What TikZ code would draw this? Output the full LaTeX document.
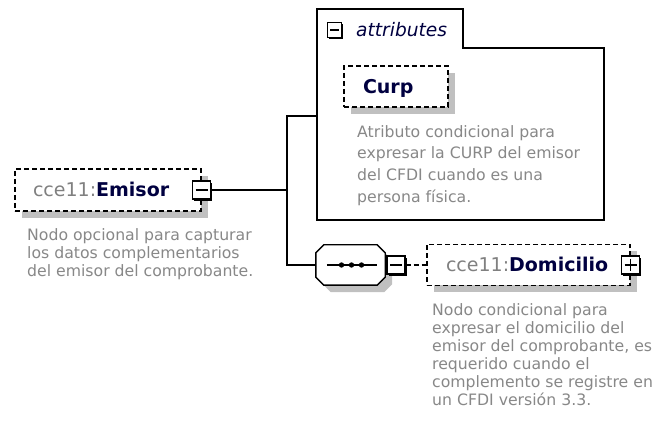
\documentclass[tikz,border=0pt]{standalone}
\usepackage{fontspec}
\setmainfont{DejaVu Sans}
\usetikzlibrary{shadows}
\definecolor{desc}{RGB}{136,136,136}
\definecolor{pfx}{RGB}{128,128,128}
\definecolor{nm}{RGB}{0,0,64}
\definecolor{shd}{RGB}{192,192,192}
\begin{document}
\begin{tikzpicture}[x=1pt,y=-1pt,
  conn/.style={line width=1.4pt},
  dconn/.style={line width=1.4pt, dash pattern=on 5pt off 3pt},
  elembox/.style={draw, dash pattern=on 5pt off 3pt, line width=1.4pt, fill=white,
    inner xsep=0pt, inner ysep=0pt, text height=13.6pt, text depth=0pt,
    font=\fontsize{19}{22}\selectfont,
    drop shadow={shadow xshift=7pt, shadow yshift=-7pt, fill=shd, opacity=1}},
  togglebox/.style={draw, fill=white, line width=1.2pt, minimum size=#1, inner sep=0pt,
    drop shadow={shadow xshift=1.6pt, shadow yshift=-1.6pt, fill=black, opacity=1}},
  minusbox/.style={togglebox=#1, path picture={\draw[line width=1.3pt]
    ([xshift=3pt]path picture bounding box.west) -- ([xshift=-3pt]path picture bounding box.east);}},
  plusbox/.style={togglebox=#1, path picture={\draw[line width=1.3pt]
    ([xshift=3pt]path picture bounding box.west) -- ([xshift=-3pt]path picture bounding box.east)
    ([yshift=-3pt]path picture bounding box.north) -- ([yshift=3pt]path picture bounding box.south);}},
  desctext/.style={anchor=north west, inner sep=0pt, align=left, text=desc,
    font=\fontsize{15.7}{18}\selectfont},
  seqshape/.style={line width=1.4pt, fill=white,
    drop shadow={shadow xshift=7pt, shadow yshift=-7pt, fill=shd, opacity=1}},
]
\fill[white] (0,0) rectangle (662,430);
\useasboundingbox (0,0) rectangle (662,430);

% attributes container
\draw[line width=1.4pt] (317,9) -- (463,9) -- (463,48) -- (604,48) -- (604,220) -- (317,220) -- cycle;
\node[minusbox=14.5pt] (attrtog) at (334.5,30) {};
\node[anchor=base west, inner sep=0pt, font=\fontsize{18.6}{20}\selectfont\itshape, text=nm] (attrlbl) at (356,36.5) {attributes};

% Curp
\node[elembox, minimum width=104pt, minimum height=41pt] (curp) at (396,86.5)
  {\makebox[104pt][l]{\hspace{19pt}\textcolor{nm}{\bfseries Curp}}};
\node[desctext, font=\fontsize{15.7}{21.7}\selectfont] (curpdesc) at (357,125)
  {Atributo condicional para\\expresar la CURP del emisor\\del CFDI cuando es una\\persona física.};

% Emisor
\node[elembox, minimum width=186pt, minimum height=42pt] (emisor) at (108,190)
  {\makebox[186pt][l]{\hspace{18pt}\textcolor{pfx}{cce11:}\textcolor{nm}{\bfseries Emisor}}};
\node[minusbox=18pt] (emtog) at (emisor.east) {};
\node[desctext] (emdesc) at (27,228)
  {Nodo opcional para capturar\\los datos complementarios\\del emisor del comprobante.};

% sequence
\node[minimum width=69pt, minimum height=40pt, inner sep=0pt] (seq) at (350.5,265) {};
\draw[seqshape] ([xshift=8pt]seq.north west) -- ([xshift=-8pt]seq.north east)
  -- ([yshift=-8pt]seq.north east) -- ([yshift=8pt]seq.south east)
  -- ([xshift=-8pt]seq.south east) -- ([xshift=8pt]seq.south west)
  -- ([yshift=8pt]seq.south west) -- ([yshift=-8pt]seq.north west) -- cycle;
\draw[line width=1.4pt] ([xshift=11pt]seq.west) -- ([xshift=-8pt]seq.east);
\fill ([xshift=-9pt]seq.center) circle (2.7);
\fill ([xshift=1pt]seq.center) circle (2.7);
\fill ([xshift=11pt]seq.center) circle (2.7);
\node[minusbox=18pt] (seqtog) at (396,265) {};

% Domicilio
\node[elembox, minimum width=203pt, minimum height=41pt] (dom) at (528.5,265)
  {\makebox[203pt][l]{\hspace{19pt}\textcolor{pfx}{cce11:}\textcolor{nm}{\bfseries Domicilio}}};
\node[plusbox=18pt] (domtog) at (dom.east) {};
\node[desctext] (domdesc) at (432,303)
  {Nodo condicional para\\expresar el domicilio del\\emisor del comprobante, es\\requerido cuando el\\complemento se registre en\\un CFDI versión 3.3.};

% connectors
\coordinate (jt) at (287,116);
\coordinate (jb) at (287,265);
\coordinate (attrW) at (317,116);
\draw[conn] (emtog.east) -- (emtog.east -| jt);
\draw[conn] (attrW) -- (jt) -- (jb) -- (seq.west);
\draw[dconn] (seqtog.east) -- (dom.west);
\end{tikzpicture}
\end{document}
